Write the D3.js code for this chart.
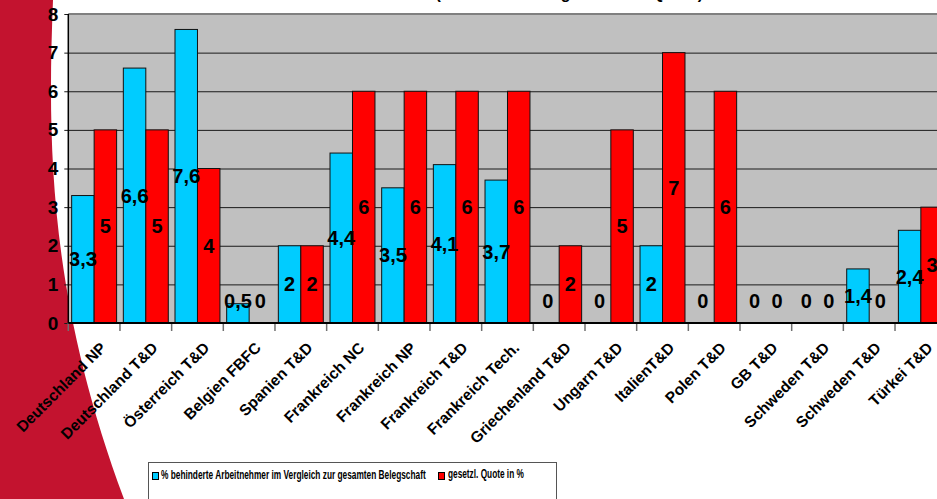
<!DOCTYPE html>
<html>
<head>
<meta charset="utf-8">
<script src="https://cdn.jsdelivr.net/npm/d3@7"></script>
<style>
  body { margin: 0; background: #fff; }
  text { font-family: "Liberation Sans", Arial, sans-serif; font-weight: bold; }
</style>
</head>
<body>
<div id="container"></div>
<script>
// categories (sites) and the two series
let categories = ["Deutschland NP", "Deutschland T&D", "Österreich T&D", "Belgien FBFC", "Spanien T&D",
  "Frankreich NC", "Frankreich NP", "Frankreich T&D", "Frankreich Tech.", "Griechenland T&D", "Ungarn T&D",
  "ItalienT&D", "Polen T&D", "GB T&D", "Schweden T&D", "Schweden T&D", "Türkei T&D"];
let anteil = [3.3, 6.6, 7.6, 0.5, 2, 4.4, 3.5, 4.1, 3.7, 0, 0, 2, 0, 0, 0, 1.4, 2.4];
let quote = [5, 5, 4, 0, 2, 6, 6, 6, 6, 2, 5, 7, 6, 0, 0, 0, 3];
let seriesNames = ["% behinderte Arbeitnehmer im Vergleich zur gesamten Belegschaft", "gesetzl. Quote in %"];
let seriesColors = ["#00ccff", "#ff0000"];
let yTicks = [0, 1, 2, 3, 4, 5, 6, 7, 8];
let title = "Behinderte Arbeitnehmer (Anteil in % und gesetzliche Quote)";

let w = 937;
let h = 499;
let plotLeft = 68.3;
let step = 51.67;
let plotRight = plotLeft + categories.length * step;
let plotTop = 14;
let plotBottom = 323;

let viz = d3.select("#container")
  .append("svg")
  .attr("width", w)
  .attr("height", h)
  .style("display", "block");

// red decoration on the left side of the slide
viz.append("path")
  .attr("d", "M0,0 H53 C47,150 50,300 124,499 H0 Z")
  .attr("fill", "#c3132f");

// title, mostly cut off at the top (only descenders show)
viz.append("text")
  .attr("x", 703)
  .attr("y", -1)
  .attr("text-anchor", "end")
  .attr("font-size", 16)
  .text(title);

let xScale = d3.scaleBand()
  .domain(d3.range(categories.length))
  .range([plotLeft, plotRight])
  .paddingInner(0.13)
  .paddingOuter(0.065);

let xSeries = d3.scaleBand()
  .domain([0, 1])
  .range([0, xScale.bandwidth()]);

let yScale = d3.scaleLinear().domain([0, 8]).range([plotBottom, plotTop]);

// plot area
viz.append("rect")
  .attr("x", plotLeft)
  .attr("y", plotTop)
  .attr("width", plotRight - plotLeft)
  .attr("height", plotBottom - plotTop)
  .attr("fill", "#c0c0c0");

// grid lines
let grid = viz.append("g")
  .attr("transform", "translate(" + plotLeft + ",0)")
  .call(d3.axisLeft(yScale).tickValues(yTicks).tickSize(-(plotRight - plotLeft)).tickFormat(""));
grid.select(".domain").remove();
grid.selectAll("line").attr("stroke", "#1a1a1a").attr("stroke-width", 1);

viz.append("line")
  .attr("x1", plotLeft).attr("x2", plotRight)
  .attr("y1", plotTop).attr("y2", plotTop)
  .attr("stroke", "#808080").attr("stroke-width", 2);

// y axis with labels
let yAxisGroup = viz.append("g")
  .attr("transform", "translate(" + plotLeft + ",0)")
  .call(d3.axisLeft(yScale).tickValues(yTicks).tickSize(4).tickPadding(6));
yAxisGroup.select(".domain").remove();
yAxisGroup.selectAll("line").attr("stroke", "#1a1a1a");
yAxisGroup.selectAll("text")
  .attr("font-size", 19)
  .attr("font-family", "Liberation Sans, Arial, sans-serif")
  .attr("font-weight", "bold")
  .attr("fill", "#000");

// bars
let rows = categories.map(function (d, i) {
  return { i: i, values: [anteil[i], quote[i]] };
});

let groups = viz.selectAll(".datagroup")
  .data(rows)
  .enter()
  .append("g")
  .attr("class", "datagroup")
  .attr("transform", function (d) { return "translate(" + xScale(d.i) + ",0)"; });

groups.selectAll("rect")
  .data(function (d) { return d.values; })
  .enter()
  .append("rect")
  .attr("x", function (d, s) { return xSeries(s); })
  .attr("y", function (d) { return yScale(d); })
  .attr("width", xSeries.bandwidth())
  .attr("height", function (d) { return plotBottom - yScale(d); })
  .attr("fill", function (d, s) { return seriesColors[s]; })
  .attr("stroke", "#111")
  .attr("stroke-width", 1)
  .style("display", function (d) { return d > 0 ? null : "none"; });

// value labels in the middle of the bars
groups.selectAll(".vlabel")
  .data(function (d) { return d.values; })
  .enter()
  .append("text")
  .attr("class", "vlabel")
  .attr("x", function (d, s) { return xSeries(s) + xSeries.bandwidth() / 2; })
  .attr("y", function (d) { return Math.min(yScale(d / 2), plotBottom - 22); })
  .attr("dy", "0.35em")
  .attr("text-anchor", "middle")
  .attr("font-size", 20)
  .attr("fill", "#000")
  .text(function (d) { return String(d).replace(".", ","); });

// axis lines
viz.append("line")
  .attr("x1", plotLeft).attr("x2", plotLeft)
  .attr("y1", plotTop).attr("y2", plotBottom)
  .attr("stroke", "#000").attr("stroke-width", 1.5);

viz.selectAll(".bound")
  .data(d3.range(categories.length + 1))
  .enter()
  .append("line")
  .attr("class", "bound")
  .attr("x1", function (d) { return plotLeft + d * step; })
  .attr("x2", function (d) { return plotLeft + d * step; })
  .attr("y1", plotBottom)
  .attr("y2", plotBottom + 8)
  .attr("stroke", "#707070")
  .attr("stroke-width", 1.5);

viz.append("line")
  .attr("x1", plotLeft).attr("x2", plotRight)
  .attr("y1", plotBottom).attr("y2", plotBottom)
  .attr("stroke", "#000").attr("stroke-width", 2);

// category labels, rotated
let xAxisGroup = viz.append("g")
  .attr("transform", "translate(0," + plotBottom + ")")
  .call(d3.axisBottom(xScale).tickSize(0).tickFormat(function (i) { return categories[i]; }));
xAxisGroup.select(".domain").remove();
xAxisGroup.selectAll("text")
  .attr("x", 0)
  .attr("y", 0)
  .attr("dy", "0.35em")
  .attr("text-anchor", "end")
  .attr("transform", "translate(9,22) rotate(-45)")
  .attr("font-size", 15.5)
  .attr("font-family", "Liberation Sans, Arial, sans-serif")
  .attr("font-weight", "bold")
  .attr("fill", "#000");

// legend
let legend = viz.append("g");
legend.append("rect")
  .attr("x", 148.5).attr("y", 462.5)
  .attr("width", 408).attr("height", 60)
  .attr("fill", "#fff")
  .attr("stroke", "#555");

let legendX = [152, 438];
let legendTextX = [161, 448];
let legendLen = [265, 76];

legend.selectAll(".lkey")
  .data(seriesNames)
  .enter()
  .append("rect")
  .attr("class", "lkey")
  .attr("x", function (d, i) { return legendX[i] + 0.5; })
  .attr("y", 472.5)
  .attr("width", 6)
  .attr("height", 7)
  .attr("fill", function (d, i) { return seriesColors[i]; })
  .attr("stroke", "#000");

// the legend font is condensed: squeeze the text horizontally to its width
legend.selectAll(".ltext")
  .data(seriesNames)
  .enter()
  .append("text")
  .attr("class", "ltext")
  .attr("font-size", 12)
  .attr("fill", "#000")
  .text(function (d) { return d; })
  .attr("transform", function (d, i) {
    let natural = this.getComputedTextLength();
    let sx = legendLen[i] / natural;
    let y = i == 0 ? 479 : 478;
    return "translate(" + legendTextX[i] + "," + y + ") scale(" + sx + ",1)";
  });
</script>
</body>
</html>
